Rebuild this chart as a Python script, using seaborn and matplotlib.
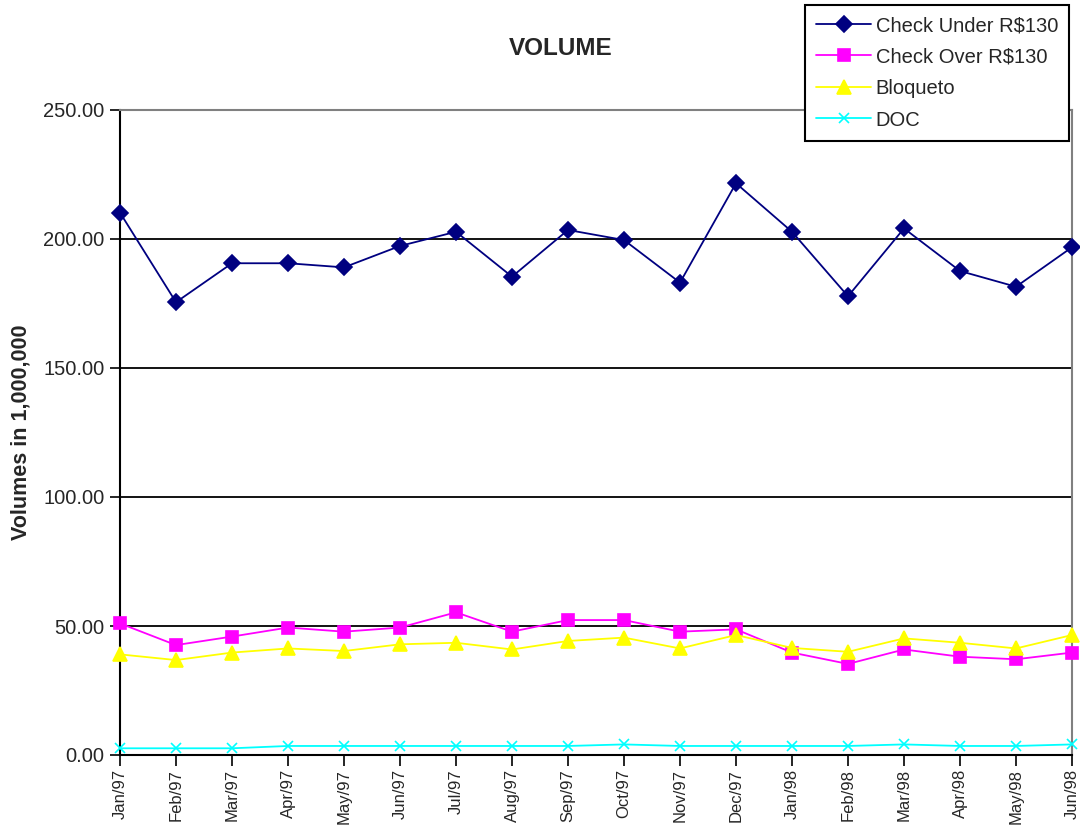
import matplotlib
matplotlib.use("Agg")
import matplotlib.pyplot as plt
import seaborn as sns
import pandas as pd
from matplotlib.ticker import FormatStrFormatter

months = ["Jan/97", "Feb/97", "Mar/97", "Apr/97", "May/97", "Jun/97", "Jul/97", "Aug/97",
          "Sep/97", "Oct/97", "Nov/97", "Dec/97", "Jan/98", "Feb/98", "Mar/98", "Apr/98",
          "May/98", "Jun/98"]
check_under = [210.2, 175.5, 190.6, 190.6, 189.0, 197.3, 202.8, 185.4, 203.5, 199.6,
               183.1, 221.6, 202.8, 177.8, 204.1, 187.6, 181.5, 196.8]
check_over = [51.0, 42.6, 45.9, 49.4, 47.8, 49.4, 55.3, 47.8, 52.3, 52.3,
              47.8, 48.7, 39.7, 35.3, 40.9, 38.1, 37.1, 39.7]
bloqueto = [39.0, 36.8, 39.7, 41.3, 40.3, 42.9, 43.5, 40.9, 44.2, 45.5,
            41.3, 46.5, 41.5, 40.0, 45.2, 43.5, 41.3, 46.5]
doc = [2.6, 2.6, 2.6, 3.5, 3.5, 3.5, 3.5, 3.5, 3.5, 4.1,
       3.5, 3.5, 3.5, 3.5, 4.1, 3.5, 3.5, 4.1]
series_names = ["Check Under R$130", "Check Over R$130", "Bloqueto", "DOC"]

rows = []
for name, vals in zip(series_names, [check_under, check_over, bloqueto, doc]):
    for i, v in enumerate(vals):
        rows.append({"idx": i, "value": v, "series": name})
df = pd.DataFrame(rows)

sns.set_theme(style="white")
plt.rcParams["font.family"] = ["Liberation Sans", "DejaVu Sans"]

fig = plt.figure(figsize=(10.8, 8.31), dpi=100)
ax = fig.add_axes([120 / 1080, 76 / 831, 952 / 1080, 645 / 831])

palette = {"Check Under R$130": "#000080", "Check Over R$130": "#FF00FF",
           "Bloqueto": "#FFFF00", "DOC": "#00FFFF"}
markers = {"Check Under R$130": "D", "Check Over R$130": "s", "Bloqueto": "^", "DOC": "x"}
sizes_ms = {"Check Under R$130": 8, "Check Over R$130": 8, "Bloqueto": 10, "DOC": 7}

for name in series_names:
    sub = df[df["series"] == name]
    sns.lineplot(data=sub, x="idx", y="value", ax=ax, color=palette[name],
                 marker=markers[name], markersize=sizes_ms[name],
                 markeredgecolor=palette[name], markeredgewidth=1.2,
                 linewidth=1.3, label=name, clip_on=False, zorder=3)

ax.set_xlim(0, 17)
ax.set_ylim(0, 250)
ax.set_yticks([0, 50, 100, 150, 200, 250])
ax.yaxis.set_major_formatter(FormatStrFormatter("%.2f"))
ax.set_xticks(range(len(months)))
ax.set_xticklabels(months, rotation=90, fontsize=12)
ax.tick_params(axis="y", labelsize=14.5, direction="out", length=7, width=1.2,
               color="black", left=True, pad=4)
ax.tick_params(axis="x", direction="out", length=8, width=1.2, color="black",
               bottom=True, pad=2)
for y in [50, 100, 150, 200]:
    ax.axhline(y, color="black", linewidth=1.3, zorder=1)
ax.set_xlabel("")
ax.set_ylabel("")
for s in ["left", "bottom"]:
    ax.spines[s].set_color("black")
    ax.spines[s].set_linewidth(1.5)
for s in ["top", "right"]:
    ax.spines[s].set_color("#808080")
    ax.spines[s].set_linewidth(1.5)
ax.grid(False)

handles, labels = ax.get_legend_handles_labels()
ax.legend_.remove()
leg = fig.legend(handles, labels, loc="upper right", bbox_to_anchor=(0.99, 0.994),
                 fontsize=14.5, frameon=True, fancybox=False, edgecolor="black",
                 framealpha=1, handlelength=2.7, borderpad=0.55, labelspacing=0.62,
                 handletextpad=0.25, borderaxespad=0.0)
leg.get_frame().set_linewidth(1.5)

fig.text(0.519, 0.942, "VOLUME", ha="center", va="center", fontsize=17.5, fontweight="bold")
fig.text(0.019, 0.48, "Volumes in 1,000,000", ha="center", va="center", rotation=90,
         fontsize=15.5, fontweight="bold")

fig.savefig("out.png", dpi=100)
